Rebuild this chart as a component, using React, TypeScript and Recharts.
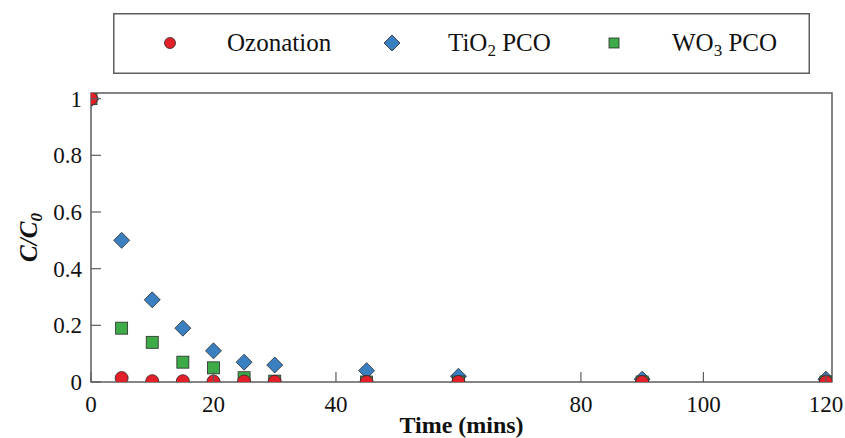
import React from "react";
import {
  ScatterChart,
  Scatter,
  XAxis,
  YAxis,
  ReferenceArea,
  Legend,
  Label,
} from "recharts";

// Zeit (min) und C/C0 je Verfahren
const times = [0, 5, 10, 15, 20, 25, 30, 45, 60, 90, 120];
const ozonation = [1, 0.014, 0.003, 0.003, 0.002, 0.002, 0.001, 0, 0, 0, 0];
const tio2Pco = [1, 0.5, 0.29, 0.19, 0.11, 0.07, 0.06, 0.04, 0.02, 0.01, 0.01];
const wo3Pco = [1, 0.19, 0.14, 0.07, 0.05, 0.015, 0.003, 0, 0, 0, 0];

const xTicks = [0, 20, 40, 80, 100, 120];
const yTicks = [0, 0.2, 0.4, 0.6, 0.8, 1];

const FONT = "Liberation Serif";
const RED = "#e3202a";
const BLUE = "#3a80c1";
const GREEN = "#3dab48";
const EDGE = "#2a2a2a";
const FRAME = "#5e5e5e";

const serif = { fontFamily: FONT };

const toPoints = (vals: number[]) => times.map((t, i) => ({ t, v: vals[i] }));

function Circle({ cx, cy, r = 6.5 }: any) {
  return <circle cx={cx} cy={cy} r={r} fill={RED} stroke={EDGE} strokeWidth={0.8} />;
}

function Diamond({ cx, cy, s = 8 }: any) {
  return (
    <polygon
      points={`${cx},${cy - s} ${cx + s},${cy} ${cx},${cy + s} ${cx - s},${cy}`}
      fill={BLUE}
      stroke={EDGE}
      strokeWidth={0.8}
    />
  );
}

function Square({ cx, cy, s = 6 }: any) {
  return (
    <rect x={cx - s} y={cy - s} width={s * 2} height={s * 2} fill={GREEN} stroke={EDGE} strokeWidth={0.8} />
  );
}

function XTick({ x, y, payload }: any) {
  return (
    <g>
      <line x1={x} x2={x} y1={y} y2={y - 10} stroke={FRAME} strokeWidth={1.2} />
      <text x={x} y={y + 30} textAnchor="middle" style={serif} fontSize={23} fill="#111">
        {payload.value}
      </text>
    </g>
  );
}

function YTick({ x, y, payload }: any) {
  return (
    <g>
      <line x1={x} x2={x + 10} y1={y} y2={y} stroke={FRAME} strokeWidth={1.2} />
      <text x={x - 9} y={y} dy="0.35em" textAnchor="end" style={serif} fontSize={23} fill="#111">
        {payload.value}
      </text>
    </g>
  );
}

function LegendBox() {
  const ty = 38;
  return (
    <svg width={697} height={61} style={{ display: "block" }}>
      <rect x={0.75} y={0.75} width={695.5} height={59.5} fill="#fff" stroke={FRAME} strokeWidth={1.5} />
      <Circle cx={57} cy={30} r={5.5} />
      <text x={114} y={ty} style={serif} fontSize={25} fill="#111">Ozonation</text>
      <Diamond cx={279} cy={30} s={8} />
      <text x={335} y={ty} style={serif} fontSize={25} fill="#111">
        TiO<tspan fontSize={17} dy={5}>2</tspan>
        <tspan dy={-5}> PCO</tspan>
      </text>
      <Square cx={501} cy={30} s={5} />
      <text x={559} y={ty} style={serif} fontSize={25} fill="#111">
        WO<tspan fontSize={17} dy={5}>3</tspan>
        <tspan dy={-5}> PCO</tspan>
      </text>
    </svg>
  );
}

export default function App() {
  return (
    <div style={{ position: "absolute", left: 0, top: 0, width: 845, height: 438, background: "#fff" }}>
      <ScatterChart width={845} height={438} margin={{ top: 93, right: 13, bottom: 0, left: 0 }}>
        <XAxis
          type="number"
          dataKey="t"
          domain={[0, 121]}
          allowDataOverflow
          ticks={xTicks}
          height={56}
          axisLine={false}
          tickLine={false}
          tickSize={0}
          tickMargin={0}
          tick={<XTick />}
          interval={0}
        >
          <Label
            content={({ viewBox }: any) => (
              <text
                x={viewBox.x + viewBox.width / 2}
                y={viewBox.y + 51}
                textAnchor="middle"
                style={serif}
                fontSize={24}
                fontWeight="bold"
                fill="#111"
              >
                Time (mins)
              </text>
            )}
          />
        </XAxis>
        <YAxis
          type="number"
          dataKey="v"
          domain={[0, 1.02]}
          allowDataOverflow
          ticks={yTicks}
          width={91}
          axisLine={false}
          tickLine={false}
          tickSize={0}
          tickMargin={0}
          tick={<YTick />}
          interval={0}
        >
          <Label
            content={({ viewBox }: any) => {
              const cx = viewBox.x + 28;
              const cy = viewBox.y + viewBox.height / 2;
              return (
                <text
                  x={cx}
                  y={cy}
                  transform={`rotate(-90 ${cx} ${cy})`}
                  textAnchor="middle"
                  dy="0.35em"
                  style={serif}
                  fontSize={25}
                  fontWeight="bold"
                  fontStyle="italic"
                  fill="#111"
                >
                  C/C<tspan fontSize={17} dy={5}>0</tspan>
                </text>
              );
            }}
          />
        </YAxis>
        <ReferenceArea x1={0} x2={121} y1={0} y2={1.02} fill="none" stroke={FRAME} strokeWidth={1.5} />
        <Scatter name="TiO2 PCO" data={toPoints(tio2Pco)} shape={<Diamond />} isAnimationActive={false} />
        <Scatter name="WO3 PCO" data={toPoints(wo3Pco)} shape={<Square />} isAnimationActive={false} />
        <Scatter name="Ozonation" data={toPoints(ozonation)} shape={<Circle />} isAnimationActive={false} />
        <Legend
          layout="vertical"
          align="center"
          verticalAlign="middle"
          wrapperStyle={{ position: "absolute", left: 113, top: 13, width: 697, height: 61 }}
          content={() => <LegendBox />}
        />
      </ScatterChart>
    </div>
  );
}
